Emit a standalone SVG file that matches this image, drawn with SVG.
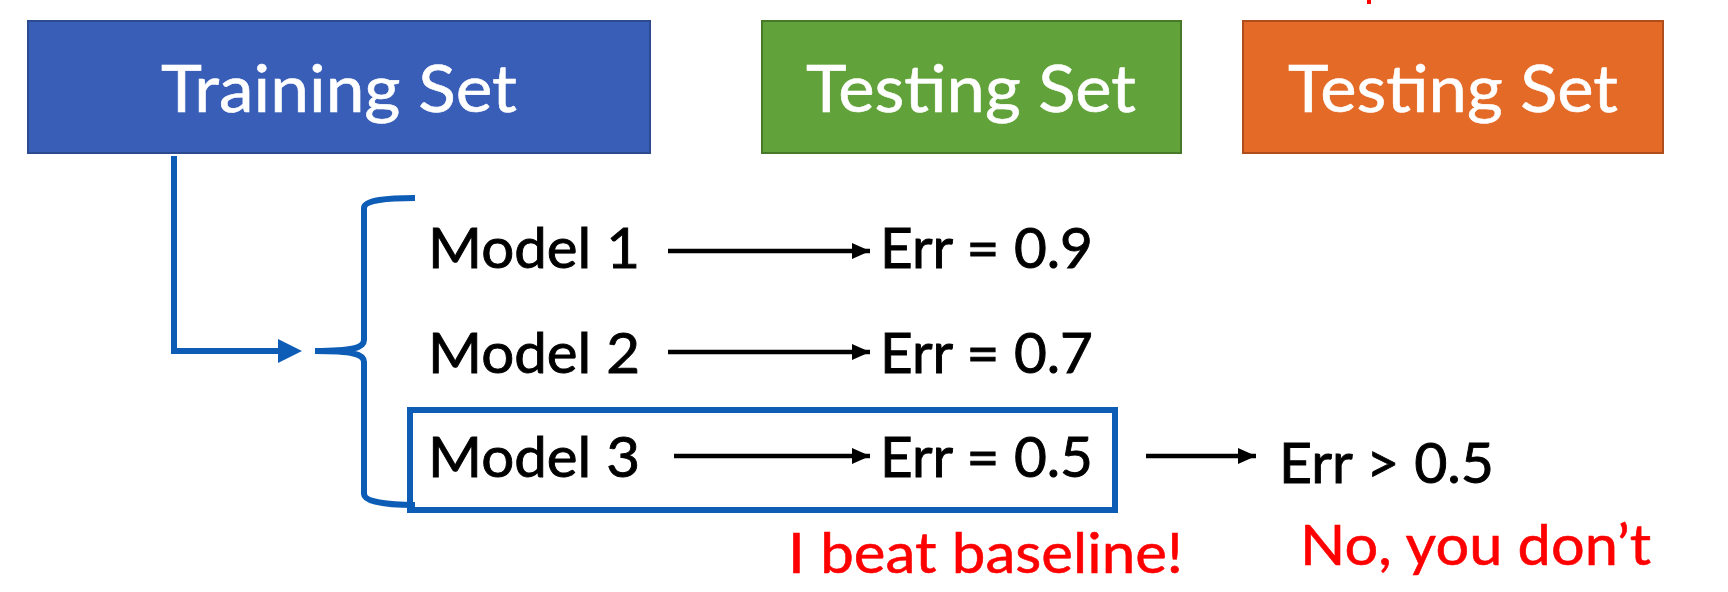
<svg xmlns="http://www.w3.org/2000/svg" width="1728" height="592" viewBox="0 0 1728 592">
<style>
.title{font-family:Lato,"Open Sans",sans-serif;font-size:65px;fill:#fff;stroke:#fff;stroke-width:0.6;text-anchor:middle}
.lbl{font-family:Lato,"Open Sans",sans-serif;font-size:56px;fill:#000;stroke:#000;stroke-width:0.9}
.red{font-family:Lato,"Open Sans",sans-serif;font-size:56px;fill:#ff0000;stroke:#ff0000;stroke-width:0.6}
.blue{fill:none;stroke:#0d5cb6;stroke-width:6}
.arr{stroke:#000;stroke-width:4.5;marker-end:url(#ah)}
</style>
<defs>
<marker id="ah" viewBox="0 0 18 16" refX="18" refY="8" markerWidth="18" markerHeight="16" markerUnits="userSpaceOnUse" orient="auto">
<path d="M0,0 L18,8 L0,16 Z" fill="#000"/>
</marker>
</defs>
<rect width="1728" height="592" fill="#fff"/>
<rect x="1367" y="0" width="4" height="4" fill="#ff0000"/>
<g id="training">
<rect x="28" y="21" width="622" height="132" fill="#385eb8" stroke="#2c4a90" stroke-width="2"/>
<text class="title" x="339" y="112" textLength="356" lengthAdjust="spacingAndGlyphs">Training Set</text>
</g>
<g id="testing-green">
<rect x="762" y="21" width="419" height="132" fill="#62a23a" stroke="#477a28" stroke-width="2"/>
<text class="title" x="971" y="112" textLength="330" lengthAdjust="spacingAndGlyphs">Testing Set</text>
</g>
<g id="testing-orange">
<rect x="1243" y="21" width="420" height="132" fill="#e46a28" stroke="#b04d1c" stroke-width="2"/>
<text class="title" x="1453" y="112" textLength="330" lengthAdjust="spacingAndGlyphs">Testing Set</text>
</g>
<g id="model1">
<text class="lbl" x="428" y="268" textLength="212" lengthAdjust="spacingAndGlyphs">Model 1</text>
</g>
<g id="model2">
<text class="lbl" x="428" y="373" textLength="212" lengthAdjust="spacingAndGlyphs">Model 2</text>
</g>
<g id="model3">
<rect class="blue" x="410" y="410" width="705" height="100"/>
<text class="lbl" x="428" y="477" textLength="212" lengthAdjust="spacingAndGlyphs">Model 3</text>
</g>
<g id="err1"><text class="lbl" x="880" y="268" textLength="213" lengthAdjust="spacingAndGlyphs">Err = 0.9</text></g>
<g id="err2"><text class="lbl" x="880" y="373" textLength="213" lengthAdjust="spacingAndGlyphs">Err = 0.7</text></g>
<g id="err3"><text class="lbl" x="880" y="477" textLength="213" lengthAdjust="spacingAndGlyphs">Err = 0.5</text></g>
<g id="err4"><text class="lbl" x="1279" y="483" textLength="215" lengthAdjust="spacingAndGlyphs">Err &gt; 0.5</text></g>
<g id="beat"><text class="red" x="788" y="573" textLength="395" lengthAdjust="spacingAndGlyphs">I beat baseline!</text></g>
<g id="nodont"><text class="red" x="1300" y="565" textLength="351" lengthAdjust="spacingAndGlyphs">No, you don’t</text></g>
<g id="connectors">
<path class="blue" d="M174,156 L174,351 L282,351"/>
<path d="M302,351 L278,339 L278,363 Z" fill="#0d5cb6"/>
<path class="blue" d="M415,198 C388,198 364,200 364,208 L364,340 C364,348 352,351 315,351 C352,351 364,354 364,362 L364,494 C364,502 388,505 415,505"/>
<line class="arr" x1="668" y1="251" x2="870" y2="251"/>
<line class="arr" x1="668" y1="352" x2="870" y2="352"/>
<line class="arr" x1="674" y1="456" x2="870" y2="456"/>
<line class="arr" x1="1146" y1="456" x2="1256" y2="456"/>
</g>
</svg>
